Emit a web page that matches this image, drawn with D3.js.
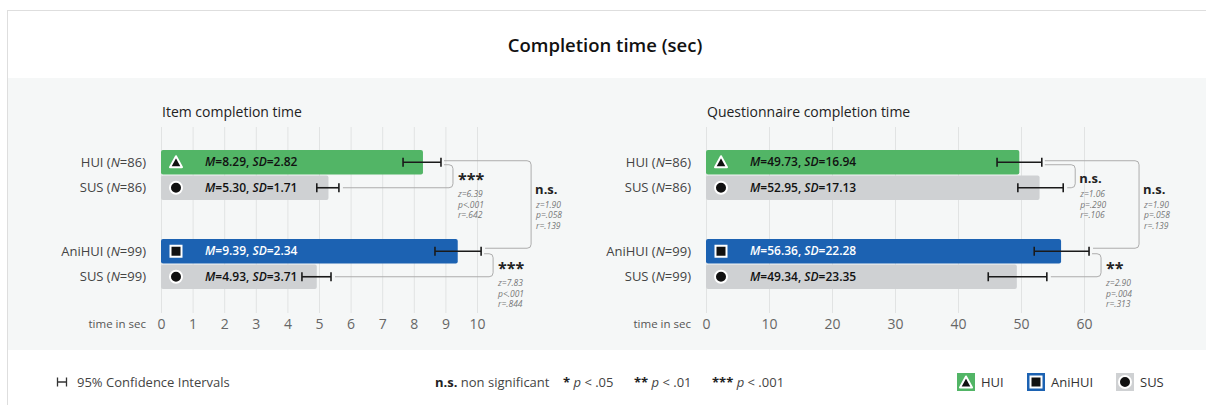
<!DOCTYPE html>
<html>
<head>
<meta charset="utf-8">
<script src="https://cdn.jsdelivr.net/npm/d3@7"></script>
<style>
  body { margin: 0; background: #fff; }
  svg { display: block; font-family: "Open Sans", "Noto Sans", sans-serif; }
</style>
</head>
<body>
<div id="chart-area"></div>
<script>
// rows: condition vs. SUS for each group
const groups = ['HUI', 'AniHUI'];
const rowNames = ['HUI', 'SUS', 'AniHUI', 'SUS'];
const rowN = [86, 86, 99, 99];
const rowGroup = ['HUI', 'HUI', 'AniHUI', 'AniHUI'];
const rowKind = ['HUI', 'SUS', 'AniHUI', 'SUS'];

const itemMean = [8.29, 5.30, 9.39, 4.93];
const itemSD = [2.82, 1.71, 2.34, 3.71];
const itemCiLo = [7.66, 4.93, 8.67, 4.46];
const itemCiHi = [8.86, 5.63, 10.13, 5.38];

const questMean = [49.73, 52.95, 56.36, 49.34];
const questSD = [16.94, 17.13, 22.28, 23.35];
const questCiLo = [46.2, 49.5, 52.1, 44.8];
const questCiHi = [53.3, 56.7, 60.8, 54.1];

const itemTicks = [0, 1, 2, 3, 4, 5, 6, 7, 8, 9, 10];
const questTicks = [0, 10, 20, 30, 40, 50, 60];

// tests: a/b = row index, outer = comparison across groups
const itemTests = [
  { a: 0, b: 1, sig: '***', z: '6.39', p: '<.001', r: '.642', outer: false },
  { a: 2, b: 3, sig: '***', z: '7.83', p: '<.001', r: '.844', outer: false },
  { a: 0, b: 2, sig: 'n.s.', z: '1.90', p: '=.058', r: '.139', outer: true }
];
const questTests = [
  { a: 0, b: 1, sig: 'n.s.', z: '1.06', p: '=.290', r: '.106', outer: false },
  { a: 2, b: 3, sig: '**', z: '2.90', p: '=.004', r: '.313', outer: false },
  { a: 0, b: 2, sig: 'n.s.', z: '1.90', p: '=.058', r: '.139', outer: true }
];

const colors = { HUI: '#52b566', AniHUI: '#1c62b2', SUS: '#cfd1d3' };

const W = 1206, H = 405;
const svg = d3.select('#chart-area').append('svg')
  .attr('width', W)
  .attr('height', H);

// frame + panel
svg.append('line').attr('x1', 7).attr('x2', W).attr('y1', 10.5).attr('y2', 10.5)
  .attr('stroke', '#dedede');
svg.append('line').attr('x1', 7.5).attr('x2', 7.5).attr('y1', 10).attr('y2', H)
  .attr('stroke', '#dedede');
svg.append('rect').attr('x', 8).attr('y', 78).attr('width', W - 8).attr('height', 272)
  .attr('fill', '#f5f7f7');

svg.append('text')
  .attr('x', 605).attr('y', 52)
  .attr('text-anchor', 'middle')
  .attr('font-size', '18.5px')
  .attr('font-weight', 600)
  .attr('fill', '#111')
  .text('Completion time (sec)');

// vertical layout
const yGroup = d3.scaleBand().domain(groups).range([150, 289]).paddingInner(39 / 89);
const yRow = d3.scaleBand().domain([0, 1]).range([0, yGroup.bandwidth()]).paddingInner(2 / 50);
const rowTop = (i) => yGroup(rowGroup[i]) + yRow(i % 2);
const rowMid = (i) => rowTop(i) + yRow.bandwidth() / 2;

const drawIcon = (sel, kind, cx, cy) => {
  const s = sel.append('g').attr('transform', 'translate(' + cx + ',' + cy + ')');
  if (kind === 'HUI') {
    s.append('path').attr('d', 'M0,-6 L6,5 L-6,5 Z')
      .attr('fill', '#111').attr('stroke', '#fff').attr('stroke-width', 2).attr('stroke-linejoin', 'round');
  } else if (kind === 'AniHUI') {
    s.append('rect').attr('x', -5.5).attr('y', -5.5).attr('width', 11).attr('height', 11)
      .attr('fill', '#111').attr('stroke', '#fff').attr('stroke-width', 2);
  } else {
    s.append('circle').attr('r', 6)
      .attr('fill', '#111').attr('stroke', '#fff').attr('stroke-width', 2);
  }
};

const drawPanel = (opts) => {
  const { x0, x1, domain, ticks, title, mean, sd, ciLo, ciHi, tests } = opts;
  const x = d3.scaleLinear().domain(domain).range([x0, x1]);
  const g = svg.append('g');

  g.append('text')
    .attr('x', x0 + 1).attr('y', 117)
    .attr('font-size', '14px')
    .attr('fill', '#222')
    .text(title);

  // grid
  g.selectAll('.grid').data(ticks).enter().append('line')
    .attr('class', 'grid')
    .attr('x1', (d) => x(d) + 0.5).attr('x2', (d) => x(d) + 0.5)
    .attr('y1', 127).attr('y2', 313)
    .attr('stroke', '#e1e3e3');

  // tick labels
  const axis = d3.axisBottom(x).tickValues(ticks).tickSize(0).tickPadding(0);
  const ax = g.append('g').attr('transform', 'translate(0,319)').call(axis);
  ax.select('.domain').remove();
  ax.selectAll('text')
    .attr('font-family', '"Open Sans", sans-serif')
    .attr('font-size', '14px')
    .attr('fill', '#666')
    .attr('dy', '0.71em');

  g.append('text')
    .attr('x', x0 - 15).attr('y', 328)
    .attr('text-anchor', 'end')
    .attr('font-size', '11.5px')
    .attr('fill', '#555')
    .text('time in sec');

  const rows = d3.range(rowNames.length);

  // row labels
  const lab = g.selectAll('.rowlab').data(rows).enter().append('text')
    .attr('class', 'rowlab')
    .attr('x', x0 - 15)
    .attr('y', (i) => rowMid(i))
    .attr('dy', '0.35em')
    .attr('text-anchor', 'end')
    .attr('font-size', '13px')
    .attr('fill', '#444');
  lab.append('tspan').text((i) => rowNames[i] + ' (');
  lab.append('tspan').attr('font-style', 'italic').text('N');
  lab.append('tspan').text((i) => '=' + rowN[i] + ')');

  // bars
  g.selectAll('.bar').data(rows).enter().append('rect')
    .attr('class', 'bar')
    .attr('x', x(0))
    .attr('y', (i) => rowTop(i))
    .attr('width', (i) => x(mean[i]) - x(0))
    .attr('height', yRow.bandwidth())
    .attr('rx', 2)
    .attr('fill', (i) => colors[rowKind[i]]);

  rows.forEach((i) => drawIcon(g, rowKind[i], x(0) + 15, rowMid(i)));

  // value labels
  const vt = g.selectAll('.val').data(rows).enter().append('text')
    .attr('class', 'val')
    .attr('x', x(0) + 44)
    .attr('y', (i) => rowMid(i))
    .attr('dy', '0.35em')
    .attr('font-size', '12px')
    .attr('font-weight', 600)
    .attr('fill', (i) => rowKind[i] === 'AniHUI' ? '#fff' : '#111');
  vt.append('tspan').attr('font-style', 'italic').text('M');
  vt.append('tspan').text((i) => '=' + mean[i].toFixed(2) + ', ');
  vt.append('tspan').attr('font-style', 'italic').text('SD');
  vt.append('tspan').text((i) => '=' + sd[i].toFixed(2));

  // confidence intervals
  const ci = g.selectAll('.ci').data(rows).enter().append('g').attr('class', 'ci');
  ci.append('line')
    .attr('x1', (i) => x(ciLo[i])).attr('x2', (i) => x(ciHi[i]))
    .attr('y1', (i) => rowMid(i)).attr('y2', (i) => rowMid(i));
  ci.append('line')
    .attr('x1', (i) => x(ciLo[i])).attr('x2', (i) => x(ciLo[i]))
    .attr('y1', (i) => rowMid(i) - 4.5).attr('y2', (i) => rowMid(i) + 4.5);
  ci.append('line')
    .attr('x1', (i) => x(ciHi[i])).attr('x2', (i) => x(ciHi[i]))
    .attr('y1', (i) => rowMid(i) - 4.5).attr('y2', (i) => rowMid(i) + 4.5);
  ci.selectAll('line').attr('stroke', '#1a1a1a').attr('stroke-width', 1.6);

  // significance brackets
  tests.forEach((t) => {
    const capA = x(ciHi[t.a]);
    const capB = x(ciHi[t.b]);
    const bx = Math.max(capA, capB) + (t.outer ? 50 : 12);
    const ya = rowMid(t.a) + (t.outer ? -1.5 : 2.5);
    const yb = rowMid(t.b) + (t.outer ? -3 : 0);
    const r = 4;
    const d = 'M' + (capA + 3) + ',' + ya + ' H' + (bx - r) +
      ' Q' + bx + ',' + ya + ' ' + bx + ',' + (ya + r) +
      ' V' + (yb - r) + ' Q' + bx + ',' + yb + ' ' + (bx - r) + ',' + yb +
      ' H' + (capB + 4);
    g.append('path').attr('d', d)
      .attr('fill', 'none').attr('stroke', '#adadad').attr('stroke-width', 1);

    const mid = (rowMid(t.a) + rowMid(t.b)) / 2;
    const base = t.outer ? mid - 13 : mid + 8;
    const isStar = t.sig !== 'n.s.';
    g.append('text')
      .attr('x', bx + (isStar ? 5 : 4)).attr('y', base + (isStar ? 2 : 0))
      .attr('font-size', isStar ? '16px' : '13px')
      .attr('font-weight', 700)
      .attr('fill', '#222')
      .text(t.sig);
    const stats = ['z=' + t.z, 'p' + t.p, 'r=' + t.r];
    g.selectAll(null).data(stats).enter().append('text')
      .attr('x', bx + 5)
      .attr('y', (s, k) => base + 14 + k * 10.5)
      .attr('font-size', '8.5px')
      .attr('font-style', 'italic')
      .attr('fill', '#777')
      .text((s) => s);
  });
};

drawPanel({
  x0: 161, x1: 477, domain: [0, 10], ticks: itemTicks,
  title: 'Item completion time',
  mean: itemMean, sd: itemSD, ciLo: itemCiLo, ciHi: itemCiHi, tests: itemTests
});

drawPanel({
  x0: 706, x1: 1084, domain: [0, 60], ticks: questTicks,
  title: 'Questionnaire completion time',
  mean: questMean, sd: questSD, ciLo: questCiLo, ciHi: questCiHi, tests: questTests
});

// legend
const ly = 382;
const leg = svg.append('g');
leg.append('path')
  .attr('d', 'M57.5,' + (ly - 4.5) + ' V' + (ly + 4.5) + ' M57.5,' + ly + ' H66.5 M66.5,' + (ly - 4.5) + ' V' + (ly + 4.5))
  .attr('stroke', '#333').attr('stroke-width', 1.3).attr('fill', 'none');
leg.append('text').attr('x', 77).attr('y', ly).attr('dy', '0.35em')
  .attr('font-size', '13px').attr('fill', '#444')
  .text('95% Confidence Intervals');

const sigItems = [
  { x: 435, bold: 'n.s.', rest: [' non significant'] },
  { x: 563, bold: '*', rest: [' ', 'p', ' < .05'] },
  { x: 634, bold: '**', rest: [' ', 'p', ' < .01'] },
  { x: 712, bold: '***', rest: [' ', 'p', ' < .001'] }
];
sigItems.forEach((s) => {
  const t = leg.append('text').attr('x', s.x).attr('y', ly).attr('dy', '0.35em')
    .attr('font-size', '13px').attr('fill', '#444');
  t.append('tspan').attr('font-weight', 700).attr('fill', '#222').text(s.bold);
  s.rest.forEach((r) => {
    t.append('tspan').attr('font-style', r === 'p' ? 'italic' : 'normal').text(r);
  });
});

const legendKinds = ['HUI', 'AniHUI', 'SUS'];
const legendX = [957, 1027, 1116];
legendKinds.forEach((k, i) => {
  leg.append('rect').attr('x', legendX[i]).attr('y', ly - 9).attr('width', 18).attr('height', 18)
    .attr('fill', colors[k]);
  drawIcon(leg, k, legendX[i] + 9, ly + (k === 'HUI' ? 0.5 : 0));
  leg.append('text').attr('x', legendX[i] + 24).attr('y', ly).attr('dy', '0.35em')
    .attr('font-size', '13px').attr('fill', '#333')
    .text(k);
});
</script>
</body>
</html>
